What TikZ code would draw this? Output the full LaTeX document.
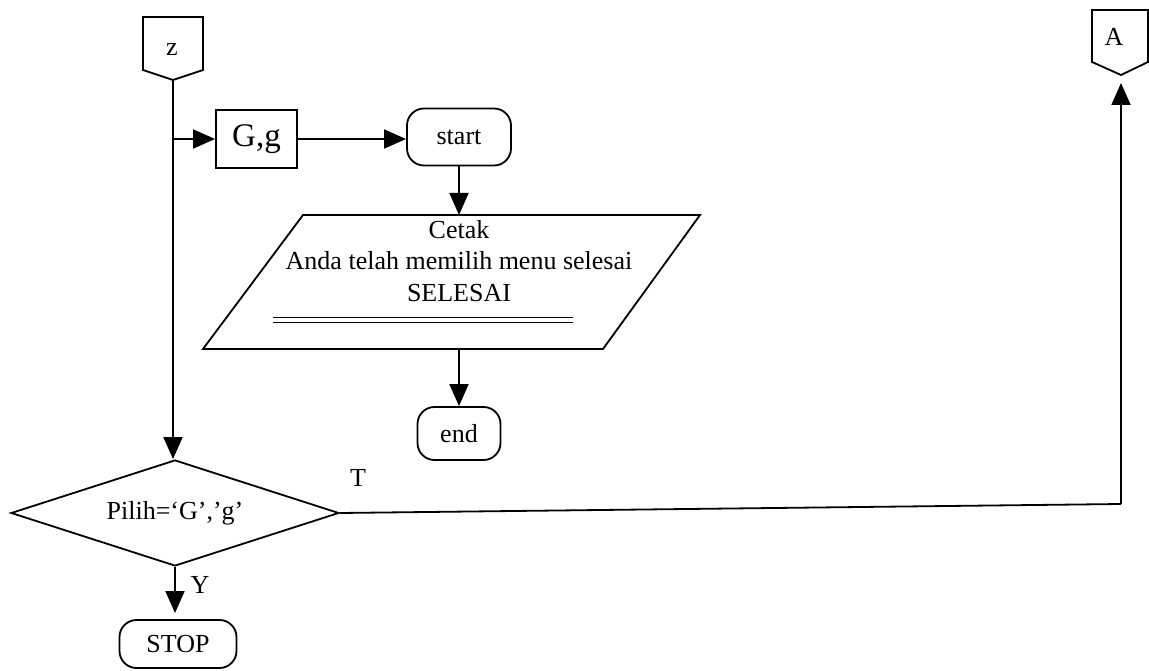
\documentclass[tikz,border=0pt]{standalone}
\usepackage{fontspec}
\setmainfont{Liberation Serif}
\usetikzlibrary{arrows.meta,shapes.geometric}
\begin{document}
\begin{tikzpicture}[x=1pt,y=-1pt,
  line width=1.8pt,
  every node/.style={font=\fontsize{26}{31.5}\selectfont},
  flow/.style={-{Triangle[length=22pt,width=19pt]}},
  procbox/.style={draw, rectangle, minimum width=81pt, minimum height=58pt, inner sep=0pt},
  termbox/.style={draw, rectangle, rounded corners=17pt, inner sep=0pt},
  decbox/.style={draw, diamond, minimum width=328pt, minimum height=106pt, inner sep=0pt, aspect=3},
  lbl/.style={inner sep=0pt}]
\useasboundingbox (0,0) rectangle (1149,671);

% off-page connector z
\draw (143,17) -- (203,17) -- (203,70) -- (173,80) -- (143,70) -- cycle;
\node[lbl] (z) at (172,50) {z};
\coordinate (zpt) at (173,80);

% off-page connector A
\draw (1092,10) -- (1148,10) -- (1148,62) -- (1121,75) -- (1092,62) -- cycle;
\node[lbl] (A) at (1114,37) {A};
\coordinate (Apt) at (1121,75);

% process and terminals
\node[procbox, font=\fontsize{33}{36}\selectfont] (G) at (256.5,139) {G,g};
\node[termbox, minimum width=104pt, minimum height=57pt] (start) at (459,137) {start};

% output parallelogram
\draw (303,215) -- (700,215) -- (603,349) -- (203,349) -- cycle;
\node[lbl, align=center] (pt) at (459,261) {Cetak\\Anda telah memilih menu selesai\\SELESAI};
\draw[line width=1pt] (273,317) -- (573,317);
\draw[line width=1pt] (273,322) -- (573,322);
\coordinate (ptop) at (459,215);
\coordinate (pbot) at (459,349);

\node[termbox, minimum width=83pt, minimum height=53pt] (end) at (459,433.5) {end};

% decision
\node[decbox] (dec) at (175,513) {Pilih=‘G’,’g’};
\node[termbox, minimum width=117pt, minimum height=48pt] (stop) at (178,644) {STOP};
\node[lbl] (Y) at (200,585) {Y};
\node[lbl] (T) at (358,478) {T};

\coordinate (br) at (173,139);
\coordinate (corner) at (1121,504);

% connectors
\draw[flow] (zpt) -- (zpt |- dec.north);
\draw[flow] (br) -- (G.west);
\draw[flow] (G.east) -- (G.east -| start.west);
\draw[flow] (start.south) -- (ptop);
\draw[flow] (pbot) -- (end.north);
\draw[flow, shorten >=6pt] (dec.south) -- (dec.south |- stop.north);
\draw (dec.east) -- (corner);
\draw[flow, shorten >=8pt] (corner) -- (Apt);
\end{tikzpicture}
\end{document}
